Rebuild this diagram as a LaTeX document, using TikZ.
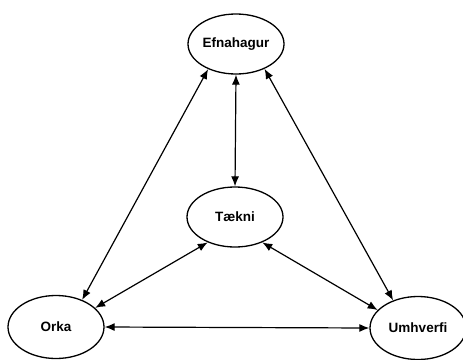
\documentclass[tikz,border=0pt]{standalone}
\usepackage{fontspec}
\setmainfont{Liberation Sans}
\usetikzlibrary{arrows.meta,shapes.geometric}
\begin{document}
\begin{tikzpicture}[x=1pt,y=-1pt,
  elnode/.style={draw,ellipse,line width=1.3pt,minimum width=96pt,minimum height=60pt,inner sep=0pt,font=\bfseries\fontsize{13.5}{15}\selectfont},
  link/.style={{Latex[length=10pt,width=8pt]}-{Latex[length=10pt,width=8pt]},line width=1.2pt}]
\useasboundingbox(0,0)rectangle(463,359);
\node[elnode](efn)at(236,44){Efnahagur};
\node[elnode](taek)at(235,217){Tækni};
\node[elnode,minimum height=63pt](orka)at(56,327){Orka};
\node[elnode,minimum height=63pt](umh)at(418,328){Umhverfi};
\draw[link](efn.270)--(taek.90);
\draw[link](efn.222)--(orka.46);
\draw[link](efn.319)--(umh.132);
\draw[link](taek.223)--(orka.26);
\draw[link](taek.317)--(umh.156);
\draw[link](orka.0)--(umh.180);
\end{tikzpicture}
\end{document}
